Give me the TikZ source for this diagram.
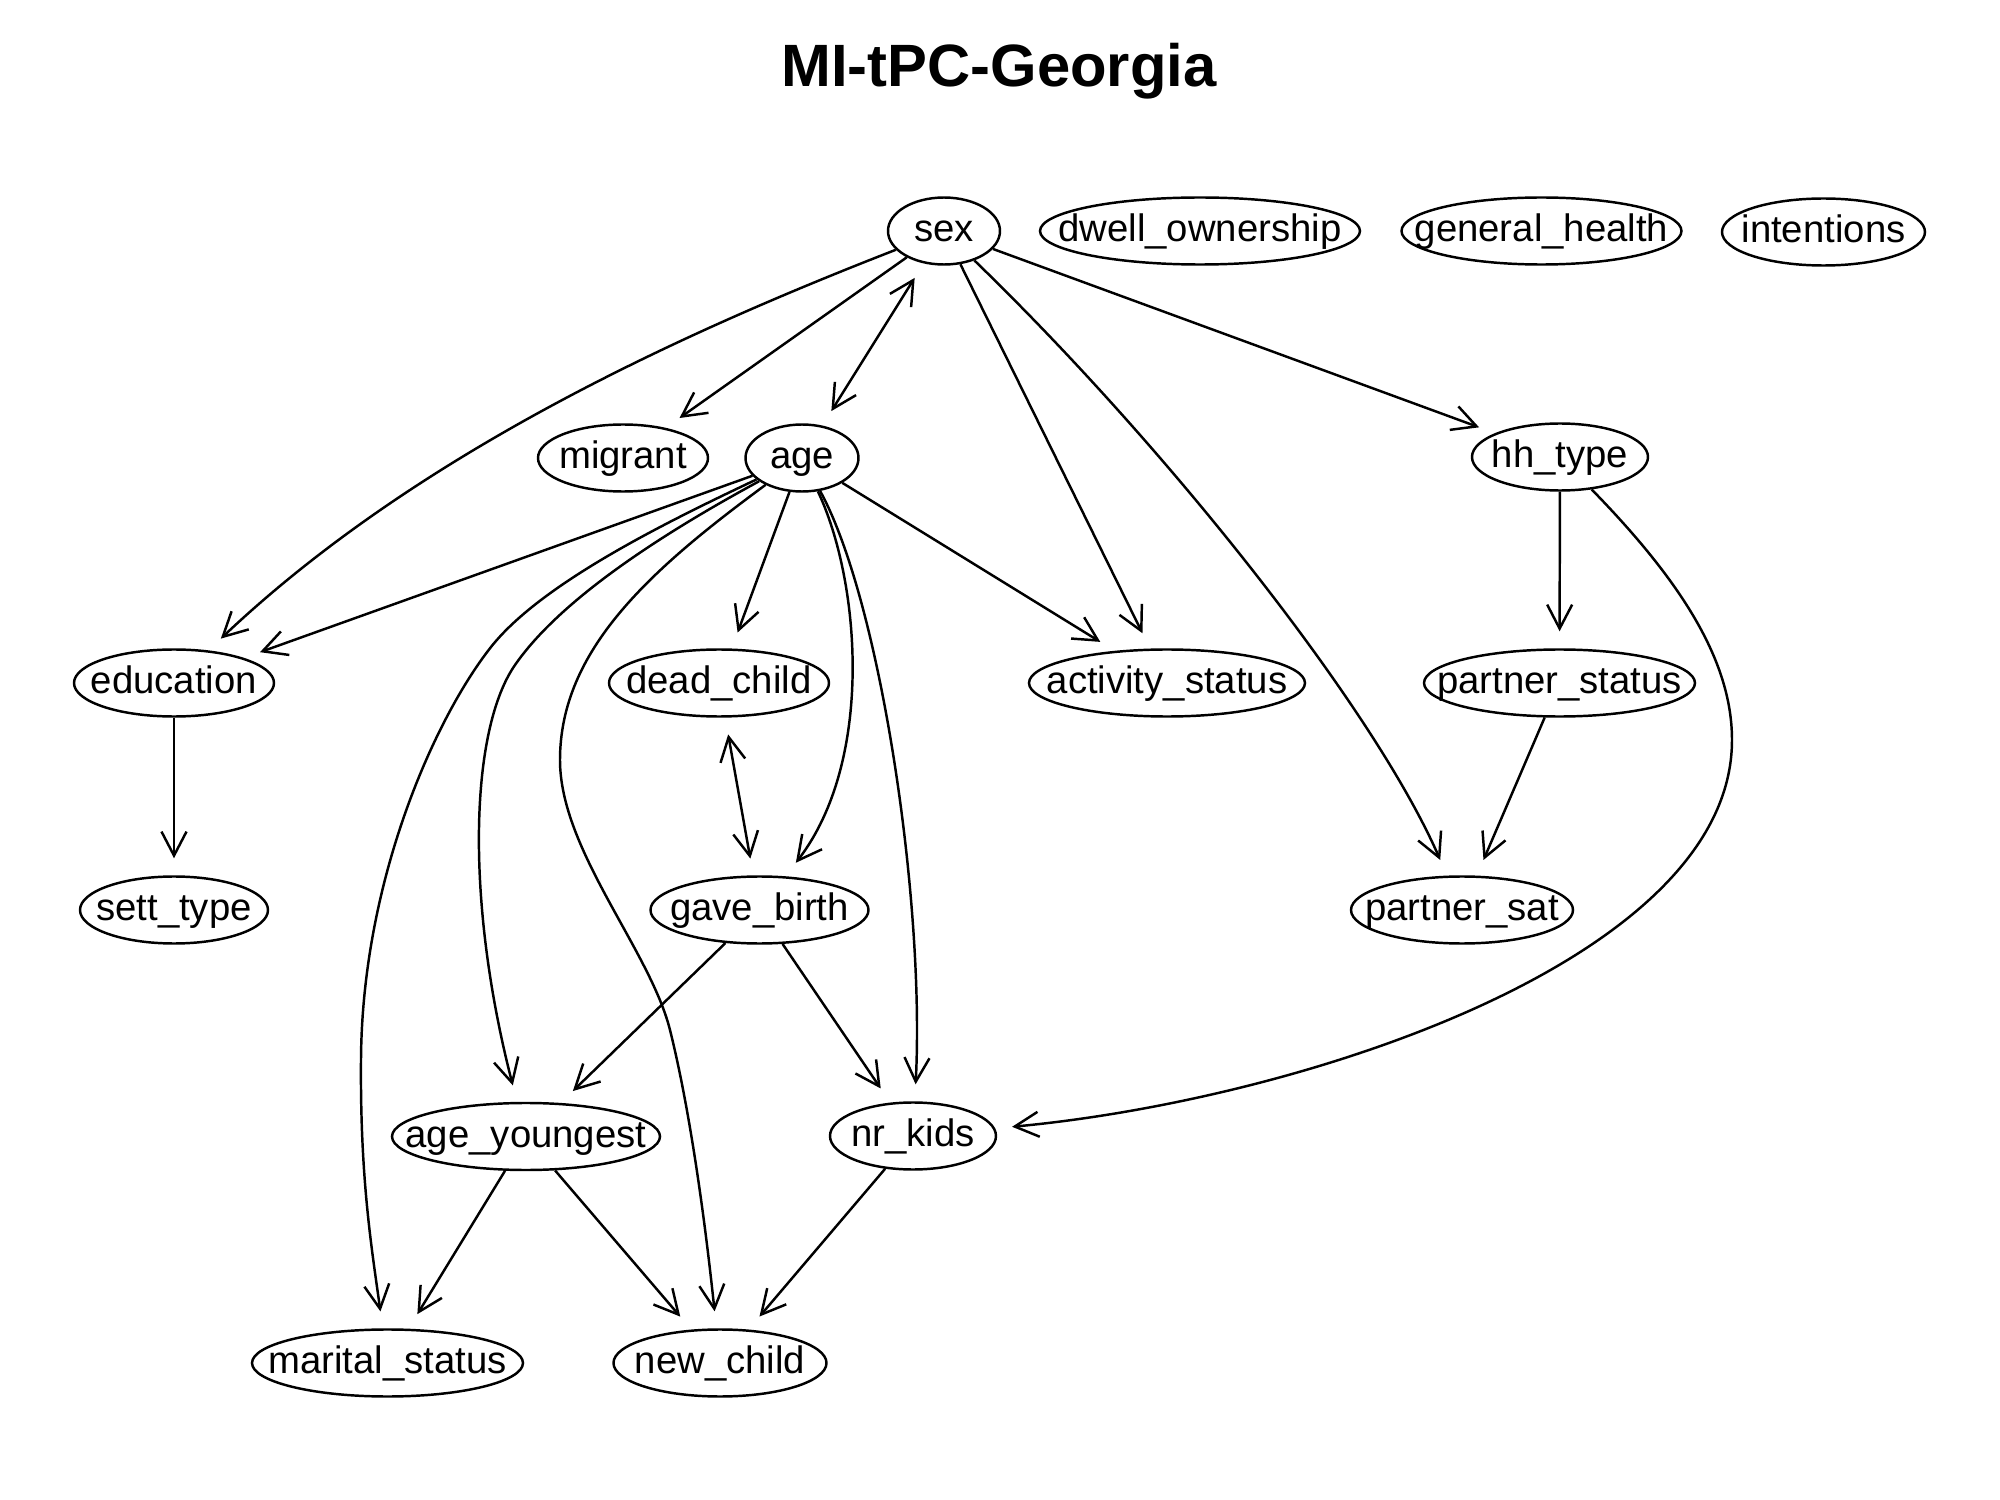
\documentclass[tikz,border=0pt]{standalone}
\usepackage{fontspec}
\setmainfont{Liberation Sans}
\usetikzlibrary{arrows.meta,shapes.geometric}
\tikzset{
  var/.style={ellipse, draw, line width=0.7pt, inner xsep=-20mm, inner ysep=-4mm,
              minimum height=6.7mm, text height=2.6mm, text depth=0.5mm,
              font=\fontsize{10.9}{13}\selectfont},
  ar/.style={-{Straight Barb[length=2.4mm,width=2.5mm]}, line width=0.7pt, shorten >=1.7mm},
  bi/.style={{Straight Barb[length=2.4mm,width=2.5mm]}-{Straight Barb[length=2.4mm,width=2.5mm]},
             line width=0.7pt, shorten >=1.7mm, shorten <=1.7mm},
}

\begin{document}
\begin{tikzpicture}[x=0.1mm,y=-0.1mm]
\useasboundingbox (0,0) rectangle (2000,1500);

\node[anchor=base,font=\bfseries\fontsize{17}{20}\selectfont] (title) at (999,87) {MI-tPC-Georgia};

% top row
\node[var,minimum width=11.2mm] (sex) at (944,231) {sex};
\node[var,minimum width=32mm] (dwell) at (1200,231) {dwell\_ownership};
\node[var,minimum width=28mm] (genhealth) at (1541.5,231) {general\_health};
\node[var,minimum width=20.3mm] (intentions) at (1823.5,232) {intentions};

% second row
\node[var,minimum width=17mm] (migrant) at (623,458) {migrant};
\node[var,minimum width=11.3mm] (age) at (802,458) {age};
\node[var,minimum width=17.6mm] (hhtype) at (1560,457) {hh\_type};

% third row
\node[var,minimum width=20mm] (education) at (174,683) {education};
\node[var,minimum width=22mm] (deadchild) at (719,683) {dead\_child};
\node[var,minimum width=27.6mm] (activity) at (1167,683) {activity\_status};
\node[var,minimum width=27.1mm] (partnerstatus) at (1559.5,683) {partner\_status};

% fourth row
\node[var,minimum width=18.8mm] (setttype) at (174,910) {sett\_type};
\node[var,minimum width=21.8mm] (gavebirth) at (759.5,910) {gave\_birth};
\node[var,minimum width=22.2mm] (partnersat) at (1462,910) {partner\_sat};

% lower rows
\node[var,minimum width=26.8mm] (ageyoungest) at (526,1136.5) {age\_youngest};
\node[var,minimum width=16.6mm] (nrkids) at (913,1136) {nr\_kids};
\node[var,minimum width=27.1mm] (marital) at (387.5,1363) {marital\_status};
\node[var,minimum width=21.3mm] (newchild) at (720,1363) {new\_child};

% edges from sex
\draw[ar] (sex) .. controls (690,330) and (420,450) .. (education);
\draw[ar] (sex) -- (migrant);
\draw[bi] (sex) -- (age);
\draw[ar] (sex) -- (activity);
\draw[ar] (sex) .. controls (1170,450) and (1375,710) .. (partnersat);
\draw[ar] (sex) -- (hhtype);

% edges from age
\draw[ar] (age) -- (education);
\draw[ar] (age) .. controls (660,525) and (540,585) .. (491,647)
   .. controls (435,718) and (362,880) .. (361,1060)
   .. controls (360,1180) and (372,1250) .. (marital);
\draw[ar] (age) .. controls (660,535) and (560,600) .. (515,665)
   .. controls (470,730) and (465,900) .. (ageyoungest);
\draw[ar] (age) .. controls (650,570) and (560,650) .. (560,760)
   .. controls (560,850) and (650,950) .. (670,1030)
   .. controls (690,1110) and (705,1220) .. (newchild);
\draw[ar] (age) -- (deadchild);
\draw[ar] (age) .. controls (860,580) and (875,760) .. (gavebirth);
\draw[ar] (age) .. controls (880,600) and (925,900) .. (nrkids);
\draw[ar] (age) -- (activity);

% household side
\draw[ar] (hhtype) -- (partnerstatus);
\draw[ar] (hhtype) .. controls (1680,580) and (1732,660) .. (1732,740)
   .. controls (1732,960) and (1300,1100) .. (nrkids);
\draw[ar] (partnerstatus) -- (partnersat);

% rest
\draw[ar] (education) -- (setttype);
\draw[bi] (deadchild) -- (gavebirth);
\draw[ar] (gavebirth) -- (ageyoungest);
\draw[ar] (gavebirth) -- (nrkids);
\draw[ar] (ageyoungest) -- (marital);
\draw[ar] (ageyoungest) -- (newchild);
\draw[ar] (nrkids) -- (newchild);
\end{tikzpicture}
\end{document}
